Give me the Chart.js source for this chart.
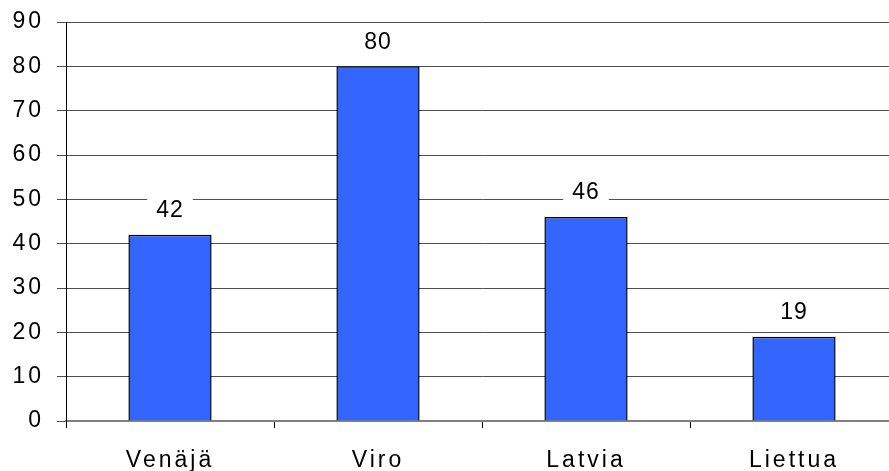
<!DOCTYPE html>
<html>
<head>
<meta charset="utf-8">
<script src="https://cdn.jsdelivr.net/npm/chart.js@4/dist/chart.umd.min.js"></script>
<style>
  html, body { margin: 0; padding: 0; background: #fff; overflow: hidden; }
  #wrap { width: 889px; height: 471px; overflow: hidden; }
</style>
</head>
<body>
<div id="wrap"><canvas id="c" width="898" height="471"></canvas></div>
<script>
const categories = ['Venäjä', 'Viro', 'Latvia', 'Liettua'];
const values = [42, 80, 46, 19];
const yMin = 0;
const yMax = 90;
const yStep = 10;

const FONT = '"Liberation Sans", Arial, sans-serif';

// Value labels above each bar, on a white patch that hides the grid line
const valueLabels = {
  id: 'valueLabels',
  afterDatasetsDraw(chart) {
    const ctx = chart.ctx;
    const meta = chart.getDatasetMeta(0);
    ctx.save();
    ctx.font = '23px ' + FONT;
    ctx.letterSpacing = '1px';
    ctx.textAlign = 'center';
    ctx.textBaseline = 'middle';
    meta.data.forEach((bar, i) => {
      const txt = String(values[i]);
      const y = bar.y - 24;
      const w = ctx.measureText(txt).width + 18;
      ctx.fillStyle = '#fff';
      ctx.fillRect(bar.x - w / 2, y - 12, w, 24);
      ctx.fillStyle = '#000';
      ctx.fillText(txt, bar.x, y);
    });
    ctx.restore();
  }
};

// Wider character spacing for the axis labels
const spacing = {
  id: 'spacing',
  beforeDraw(chart) { chart.ctx.letterSpacing = '3px'; }
};

new Chart(document.getElementById('c'), {
  type: 'bar',
  data: {
    labels: categories,
    datasets: [{
      data: values,
      backgroundColor: '#3366FF',
      borderColor: '#000',
      borderWidth: 1.5,
      categoryPercentage: 1.0,
      barPercentage: 0.4
    }]
  },
  options: {
    responsive: false,
    animation: false,
    layout: { padding: { top: 22, right: 0, left: 0, bottom: 0 } },
    plugins: { legend: { display: false }, tooltip: { enabled: false } },
    scales: {
      x: {
        offset: true,
        grid: {
          offset: true,
          drawOnChartArea: false,
          drawTicks: true,
          tickLength: 7,
          color: '#000',
          lineWidth: 1
        },
        border: { display: true, color: '#808080', width: 2 },
        ticks: {
          color: '#000',
          font: { family: FONT, size: 23 },
          padding: 19,
          maxRotation: 0
        },
        afterFit(scale) { scale.height = 50; }
      },
      y: {
        min: yMin,
        max: yMax,
        ticks: {
          stepSize: yStep,
          color: '#000',
          font: { family: FONT, size: 23 },
          padding: 13
        },
        grid: {
          color: '#505050',
          lineWidth: 1,
          tickLength: 9,
          drawTicks: true
        },
        border: { display: true, color: '#000', width: 1 },
        afterFit(scale) {
          scale.width = 66;
          scale.paddingTop = 0;
          scale.paddingBottom = 0;
        }
      }
    }
  },
  plugins: [spacing, valueLabels]
});
</script>
</body>
</html>
